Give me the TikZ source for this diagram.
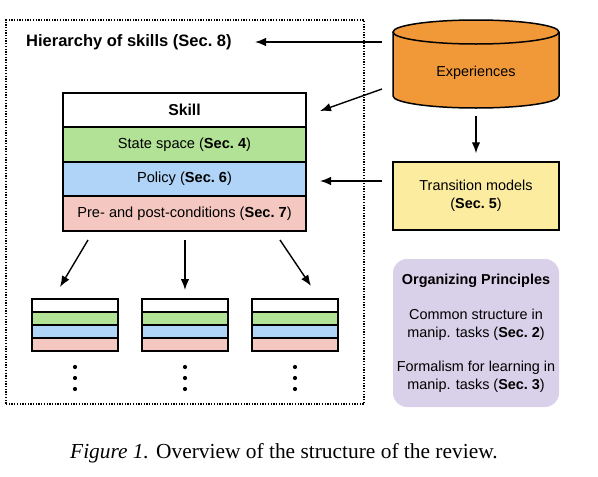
\documentclass[tikz,border=0pt]{standalone}
\usepackage{fontspec}
\setmainfont{Liberation Sans}
\newfontfamily\capfont{Liberation Serif}
\usetikzlibrary{arrows.meta,calc}
\definecolor{cgreen}{RGB}{178,226,150}
\definecolor{cblue}{RGB}{175,212,247}
\definecolor{cpink}{RGB}{244,200,192}
\definecolor{corange}{RGB}{241,153,56}
\definecolor{cyellow}{RGB}{252,236,160}
\definecolor{cpurple}{RGB}{217,209,233}
\begin{document}
\begin{tikzpicture}[x=1pt,y=-1pt,
  arr/.style={-{Latex[length=11pt,width=8.5pt]}, line width=1.4pt},
  row/.style={draw, line width=1.5pt, minimum width=243pt, inner sep=0pt,
    font=\fontsize{14.6}{17}\selectfont},
  mini/.style={draw, line width=1.3pt, minimum width=86pt, minimum height=13pt, inner sep=0pt},
  plain/.style={font=\fontsize{14.4}{18}\selectfont, align=center, inner sep=0pt},
  dotc/.style={fill=black, inner sep=0pt, minimum size=4.2pt, circle}
]
\useasboundingbox (0,0) rectangle (598,477);

% dotted frame
\node[draw, line width=1.3pt, dash pattern=on 1.3pt off 1.4pt, minimum width=358pt,
  minimum height=384pt, inner sep=0pt] (frame) at (185,212) {};
\node[anchor=west, inner sep=0pt, font=\bfseries\fontsize{16.5}{20}\selectfont] (hier) at (26,42) {Hierarchy of skills (Sec.~8)};

% skill box
\node[row, fill=white, minimum height=34pt, font=\bfseries\fontsize{15.8}{18}\selectfont] (skill) at (184.5,110) {Skill};
\node[row, fill=cgreen, minimum height=35pt] (state) at (184.5,144.5) {State space (\textbf{Sec.~4})};
\node[row, fill=cblue, minimum height=34pt] (policy) at (184.5,179) {Policy (\textbf{Sec.~6})};
\node[row, fill=cpink, minimum height=35pt] (pre) at (184.5,213.5) {Pre- and post-conditions (\textbf{Sec.~7})};

% mini skill boxes
\foreach \i/\x in {1/75,2/185,3/295}{
  \node[mini, fill=white] (m\i a) at (\x,305.5) {};
  \node[mini, fill=cgreen] (m\i b) at (\x,318.5) {};
  \node[mini, fill=cblue] (m\i c) at (\x,331.5) {};
  \node[mini, fill=cpink] (m\i d) at (\x,344.5) {};
  \node[dotc] (d\i a) at (\x,367) {};
  \node[dotc] (d\i b) at (\x,378) {};
  \node[dotc] (d\i c) at (\x,389) {};
}

% cylinder
\fill[corange] (393,32) -- (393,96) arc[start angle=180,end angle=360,x radius=83pt,y radius=12pt]
  -- (559,32) arc[start angle=0,end angle=180,x radius=83pt,y radius=12pt] -- cycle;
\draw[line width=1.5pt] (393,32) -- (393,96) arc[start angle=180,end angle=360,x radius=83pt,y radius=12pt] -- (559,32);
\draw[line width=1.5pt] (476,32) ellipse [x radius=83pt, y radius=12pt];
\node[minimum width=166pt, minimum height=88pt, inner sep=0pt] (cyl) at (476,64) {};
\node[plain] (exp) at (476,73) {Experiences};

% transition models
\node[draw, line width=1.5pt, fill=cyellow, minimum width=166pt, minimum height=68pt, plain] (trans) at (476,196)
  {Transition models\\(\textbf{Sec.~5})};

% organizing principles
\node[fill=cpurple, rounded corners=14pt, minimum width=166pt, minimum height=148pt, plain] (org) at (476,333)
  {\textbf{Organizing Principles}\\[17pt]Common structure in\\manip. tasks (\textbf{Sec.~2})\\[16pt]Formalism for learning in\\manip. tasks (\textbf{Sec.~3})};

% connectors
\coordinate (h1) at (382,42);
\coordinate (h2) at (255,42);
\draw[arr] (h1) -- (h2);
\coordinate (s1) at (382,89);
\coordinate (s2) at (320,111);
\draw[arr] (s1) -- (s2);
\coordinate (p1) at (382,181);
\coordinate (p2) at (320,181);
\draw[arr] (p1) -- (p2);
\draw[arr, shorten <=8pt, shorten >=8pt] (cyl.south) -- (trans.north);

\coordinate (a1) at (88,240);
\coordinate (b1) at (60,287);
\coordinate (a2) at (185,240);
\coordinate (b2) at (185,290);
\coordinate (a3) at (280,240);
\coordinate (b3) at (311,286);
\draw[arr] (a1) -- (b1);
\draw[arr] (a2) -- (b2);
\draw[arr] (a3) -- (b3);

% caption
\node[anchor=base west, inner sep=0pt, font=\capfont\fontsize{21.4}{24}\selectfont] (cap) at (70,458)
  {\textit{Figure 1.} Overview of the structure of the review.};
\end{tikzpicture}
\end{document}
